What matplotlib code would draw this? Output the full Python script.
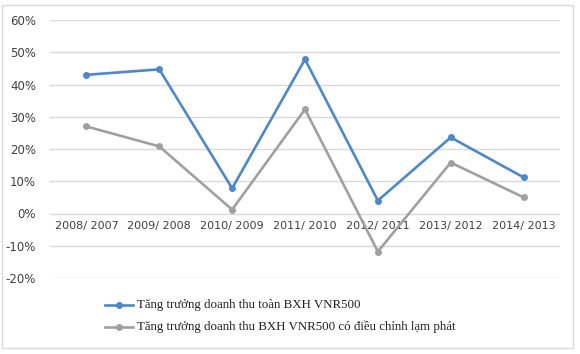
import matplotlib
matplotlib.use("Agg")
import matplotlib.pyplot as plt
from matplotlib.lines import Line2D
from matplotlib.patches import Rectangle
import matplotlib.transforms as mtransforms

categories = ["2008/ 2007", "2009/ 2008", "2010/ 2009", "2011/ 2010",
              "2012/ 2011", "2013/ 2012", "2014/ 2013"]
growth_total = [43.0, 44.7, 7.8, 47.8, 4.0, 23.6, 11.2]
growth_adjusted = [27.0, 20.8, 1.2, 32.3, -11.8, 15.8, 5.0]
series_names = ["Tăng trưởng doanh thu toàn BXH VNR500",
                "Tăng trưởng doanh thu BXH VNR500 có điều chỉnh lạm phát"]
yticks = [-20, -10, 0, 10, 20, 30, 40, 50, 60]

blue = "#4e88c7"
gray = "#a0a0a0"

W, H = 580, 354
fig = plt.figure(figsize=(W / 100, H / 100), dpi=100)
fig.patch.set_facecolor("white")
fig.patches.append(Rectangle((2 / W, 1 - 348 / H), 571 / W, 343 / H,
                             transform=fig.transFigure, fill=False,
                             edgecolor="#d9d9d9", lw=1))

ax = fig.add_axes([50 / W, 1 - 278 / H, 510 / W, 258 / H])
x = list(range(len(categories)))
ax.plot(x, growth_total, color=blue, lw=1.9, marker="o", ms=4, zorder=3)
ax.plot(x, growth_adjusted, color=gray, lw=1.9, marker="o", ms=4, zorder=3)

ax.set_xlim(-0.5, len(categories) - 0.5)
ax.set_ylim(-20, 60)
ax.set_yticks(yticks)
ax.set_yticklabels([f"{v}%" for v in yticks], fontsize=8.5, color="#404040")
ax.tick_params(axis="y", length=0, pad=10)
ax.set_xticks([])
ax.grid(axis="y", color="#d9d9d9", lw=1)
ax.set_axisbelow(True)
for s in ax.spines.values():
    s.set_visible(False)

off = mtransforms.offset_copy(ax.transData, fig=fig, x=0, y=-7, units="dots")
for xi, c in zip(x, categories):
    ax.text(xi, 0, c, transform=off, ha="center", va="top", fontsize=8,
            color="#404040", zorder=2,
            bbox=dict(facecolor="white", edgecolor="none", pad=1))

# legend
for i, (name, col) in enumerate(zip(series_names, [blue, gray])):
    yy = 1 - (305 + 22 * i) / H
    fig.add_artist(Line2D([105 / W, 133 / W], [yy, yy], color=col, lw=1.9,
                          transform=fig.transFigure))
    fig.add_artist(Line2D([119 / W], [yy], color=col, marker="o", ms=4,
                          transform=fig.transFigure))
    fig.text(137 / W, yy, name, fontsize=9.3, family="Liberation Serif",
             va="center", ha="left", color="#202020")

fig.savefig("out.png", dpi=100)
